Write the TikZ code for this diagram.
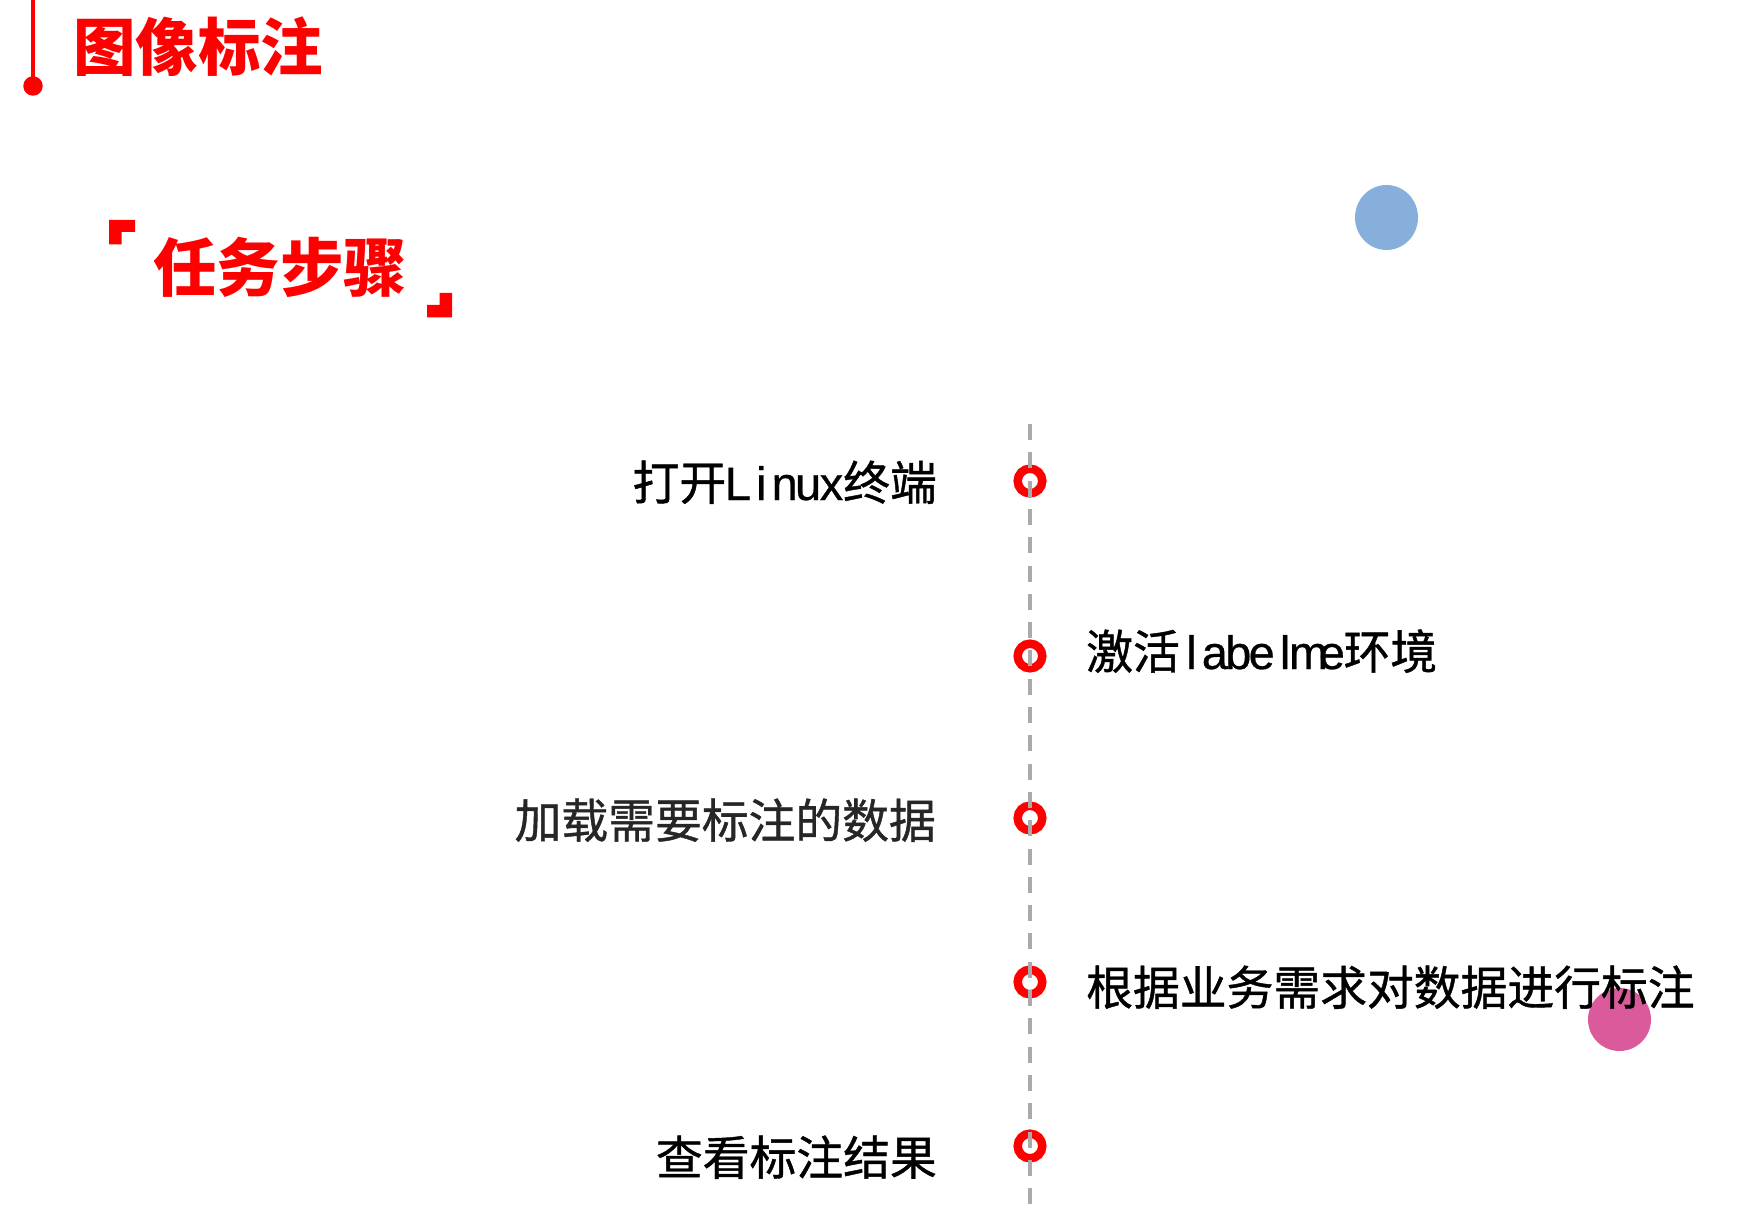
\documentclass[tikz,border=0pt]{standalone}
\usepackage{fontspec}
\setmainfont{Noto Sans CJK SC}
\newfontfamily\labfont{Noto Sans CJK SC}[FakeBold=0.9]
\newfontfamily\latfont{Liberation Sans}[FakeBold=0.6]
\newcommand{\hw}[1]{\makebox[0.5em]{\latfont #1}}
\definecolor{myred}{RGB}{255,0,0}
\definecolor{myblue}{RGB}{134,176,219}
\definecolor{mypink}{RGB}{219,90,155}
\definecolor{mygray}{RGB}{170,170,170}
\definecolor{labdark}{RGB}{38,38,38}
\tikzset{
  titletext/.style={inner sep=0pt, text=myred, font=\fontsize{62.5}{62.5}\selectfont\bfseries},
  subtext/.style={inner sep=0pt, text=myred, font=\fontsize{63.5}{63.5}\selectfont\bfseries},
  steplabel/.style={inner sep=0pt, text=black, font=\labfont\fontsize{46.8}{46.8}\selectfont},
  ringmark/.style={circle, draw=myred, line width=8.5pt, minimum size=24.6pt, inner sep=0pt, fill=white},
  timeline/.style={draw=mygray, line width=4pt, dash pattern=on 16pt off 12.3pt},
}
\begin{document}
\begin{tikzpicture}[x=1pt,y=-1pt]
\useasboundingbox (0,0) rectangle (1738,1230);
% title
\coordinate (ttop) at (33,0);
\node[circle, fill=myred, minimum size=19.5pt, inner sep=0pt] (tdot) at (33,86) {};
\draw[myred, line width=4pt] (ttop) -- (tdot.center);
\node[titletext, anchor=base west] (title) at (73,71) {图像标注};
% subtitle with corner brackets
\fill[myred] (109,220) -- (135,220) -- (135,232) -- (121.5,232) -- (121.5,244.5) -- (109,244.5) -- cycle;
\fill[myred] (452,317.5) -- (427,317.5) -- (427,305) -- (439.5,305) -- (439.5,293) -- (452,293) -- cycle;
\node[subtext, anchor=base west] (sub) at (153,292) {任务步骤};
% decorative circles
\fill[myblue] (1386.5,217.5) ellipse [x radius=31.5, y radius=32.5];
\fill[mypink] (1619.5,1019.5) circle [radius=31.5];
% timeline rings
\node[ringmark] (r1) at (1030,481) {};
\node[ringmark] (r2) at (1030,656) {};
\node[ringmark] (r3) at (1030,818) {};
\node[ringmark] (r4) at (1030,982) {};
\node[ringmark] (r5) at (1030,1146) {};
\coordinate (ltop) at (1030,424);
\coordinate (lbot) at (1030,1208);
\draw[timeline] (ltop) -- (lbot);
% labels
\node[steplabel, anchor=base east] (l1) at (937,500) {打开\hw{L}\hw{i}\hw{n}\hw{u}\hw{x}终端};
\node[steplabel, anchor=base west] (l2) at (1086,669) {激活\hw{l}\hw{a}\hw{b}\hw{e}\hw{l}\hw{m}\hw{e}环境};
\node[steplabel, anchor=base east, text=labdark] (l3) at (936,838) {加载需要标注的数据};
\node[steplabel, anchor=base west] (l4) at (1086,1005) {根据业务需求对数据进行标注};
\node[steplabel, anchor=base east] (l5) at (937,1175) {查看标注结果};
\end{tikzpicture}
\end{document}
